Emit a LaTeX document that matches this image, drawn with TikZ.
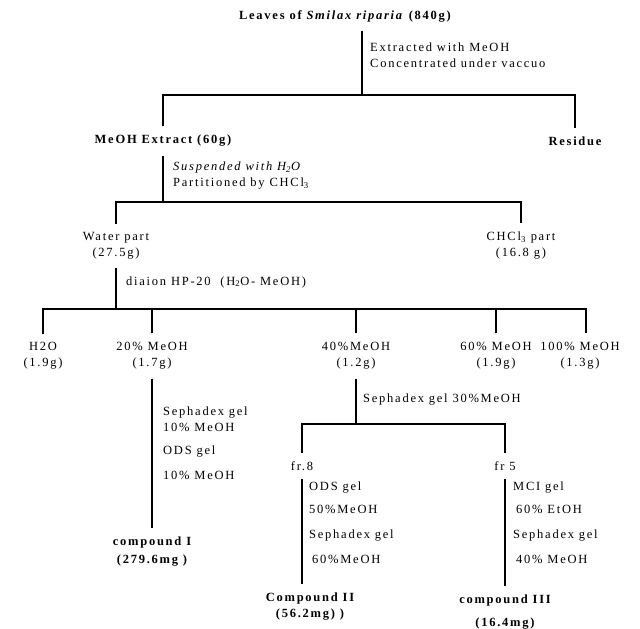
\documentclass[tikz,border=0pt]{standalone}
\usepackage{fontspec}
\setmainfont{Liberation Serif}[LetterSpace=14]
\usetikzlibrary{positioning}

\begin{document}
\begin{tikzpicture}[x=1pt, y=-1pt,
  item/.style={inner sep=0pt, outer ysep=9pt, align=center, font=\fontsize{12.5}{16}\selectfont},
  head/.style={item, font=\fontsize{12.5}{16}\selectfont\bfseries},
  note/.style={inner sep=0pt, anchor=west, align=left, font=\fontsize{12.5}{16}\selectfont},
  stem/.style={line width=1.5pt}]
\useasboundingbox (0,0) rectangle (640,629);
% Isolation scheme of the leaves
\node[head] (leaves) at (345,16) {Leaves of \textit{Smilax riparia} (840g)};
\node[head] (extract) at (163,141) {MeOH Extract (60g)};
\node[head] (residue) at (575,141) {Residue};
\node[item] (water) at (116,246) {Water part\\(27.5g)};
\node[item] (chcl) at (521,246) {CHCl\textsubscript{3} part\\(16.8 g)};

\node[item] (h2o) at (43,356) {H2O\\(1.9g)};
\node[item] (m20) at (152,356) {20\% MeOH\\(1.7g)};
\node[item] (m40) at (356,356) {40\%MeOH\\(1.2g)};
\node[item] (m60) at (496,356) {60\% MeOH\\(1.9g)};
\node[item] (m100) at (580,356) {100\% MeOH\\(1.3g)};

\node[item] (fr8) at (302,466) {fr.8};
\node[item] (fr5) at (505,466) {fr 5};

\node[head] (cpd1) at (152,552) {compound I\\[2pt](279.6mg )};
\node[head] (cpd2) at (310,607) {Compound II\\(56.2mg) )};
\node[head] (cpd3) at (505,612) {compound III\\[7pt](16.4mg)};

% conditions beside the stems
\node[note] (ext) at (370,55) {Extracted with MeOH\\Concentrated under vaccuo};
\node[note] (susp) at (173,176) {\textit{Suspended with H\textsubscript{2}O}\\Partitioned by CHCl\textsubscript{3}};
\node[note] (dia) at (126,282) {diaion HP-20 \ (H\textsubscript{2}O- MeOH)};
\node[note] (sep1) at (163,443) {Sephadex gel\\10\% MeOH\\[7pt]ODS gel\\[9pt]10\% MeOH};
\node[note] (sep30) at (363,400) {Sephadex gel 30\%MeOH};
\node[note] (ods) at (309,523) {ODS gel\\[7pt]50\%MeOH\\[9pt]Sephadex gel\\[9pt]\hspace{3pt}60\%MeOH};
\node[note] (mci) at (513,523) {MCI gel\\[7pt]\hspace{3pt}60\% EtOH\\[9pt]Sephadex gel\\[9pt]\hspace{3pt}40\% MeOH};

% branch points
\coordinate (j1) at (362,95);
\coordinate (j2) at (163,202);
\coordinate (j3) at (116,309);
\coordinate (j3r) at (586,309);
\coordinate (j4) at (356,424);

\draw[stem] (j1 |- leaves.south) -- (j1);
\draw[stem] (extract.north) |- (j1) -| (residue.north);
\draw[stem] (extract.south) -- (j2);
\draw[stem] (water.north) |- (j2) -| (chcl.north);
\draw[stem] (water.south) -- (j3);
\draw[stem] (h2o.north) |- (j3) -- (j3r) -- (j3r |- m100.north);
\foreach \f in {m20,m40,m60}
  \draw[stem] (\f.north) -- (\f.north |- j3);
\draw[stem] (m20.south) -- (cpd1.north);
\draw[stem] (m40.south) -- (j4);
\draw[stem] (fr8.north) |- (j4) -| (fr5.north);
\draw[stem] (fr8.south) -- (fr8.south |- cpd2.north);
\draw[stem] (fr5.south) -- (fr5.south |- cpd3.north);
\end{tikzpicture}
\end{document}
